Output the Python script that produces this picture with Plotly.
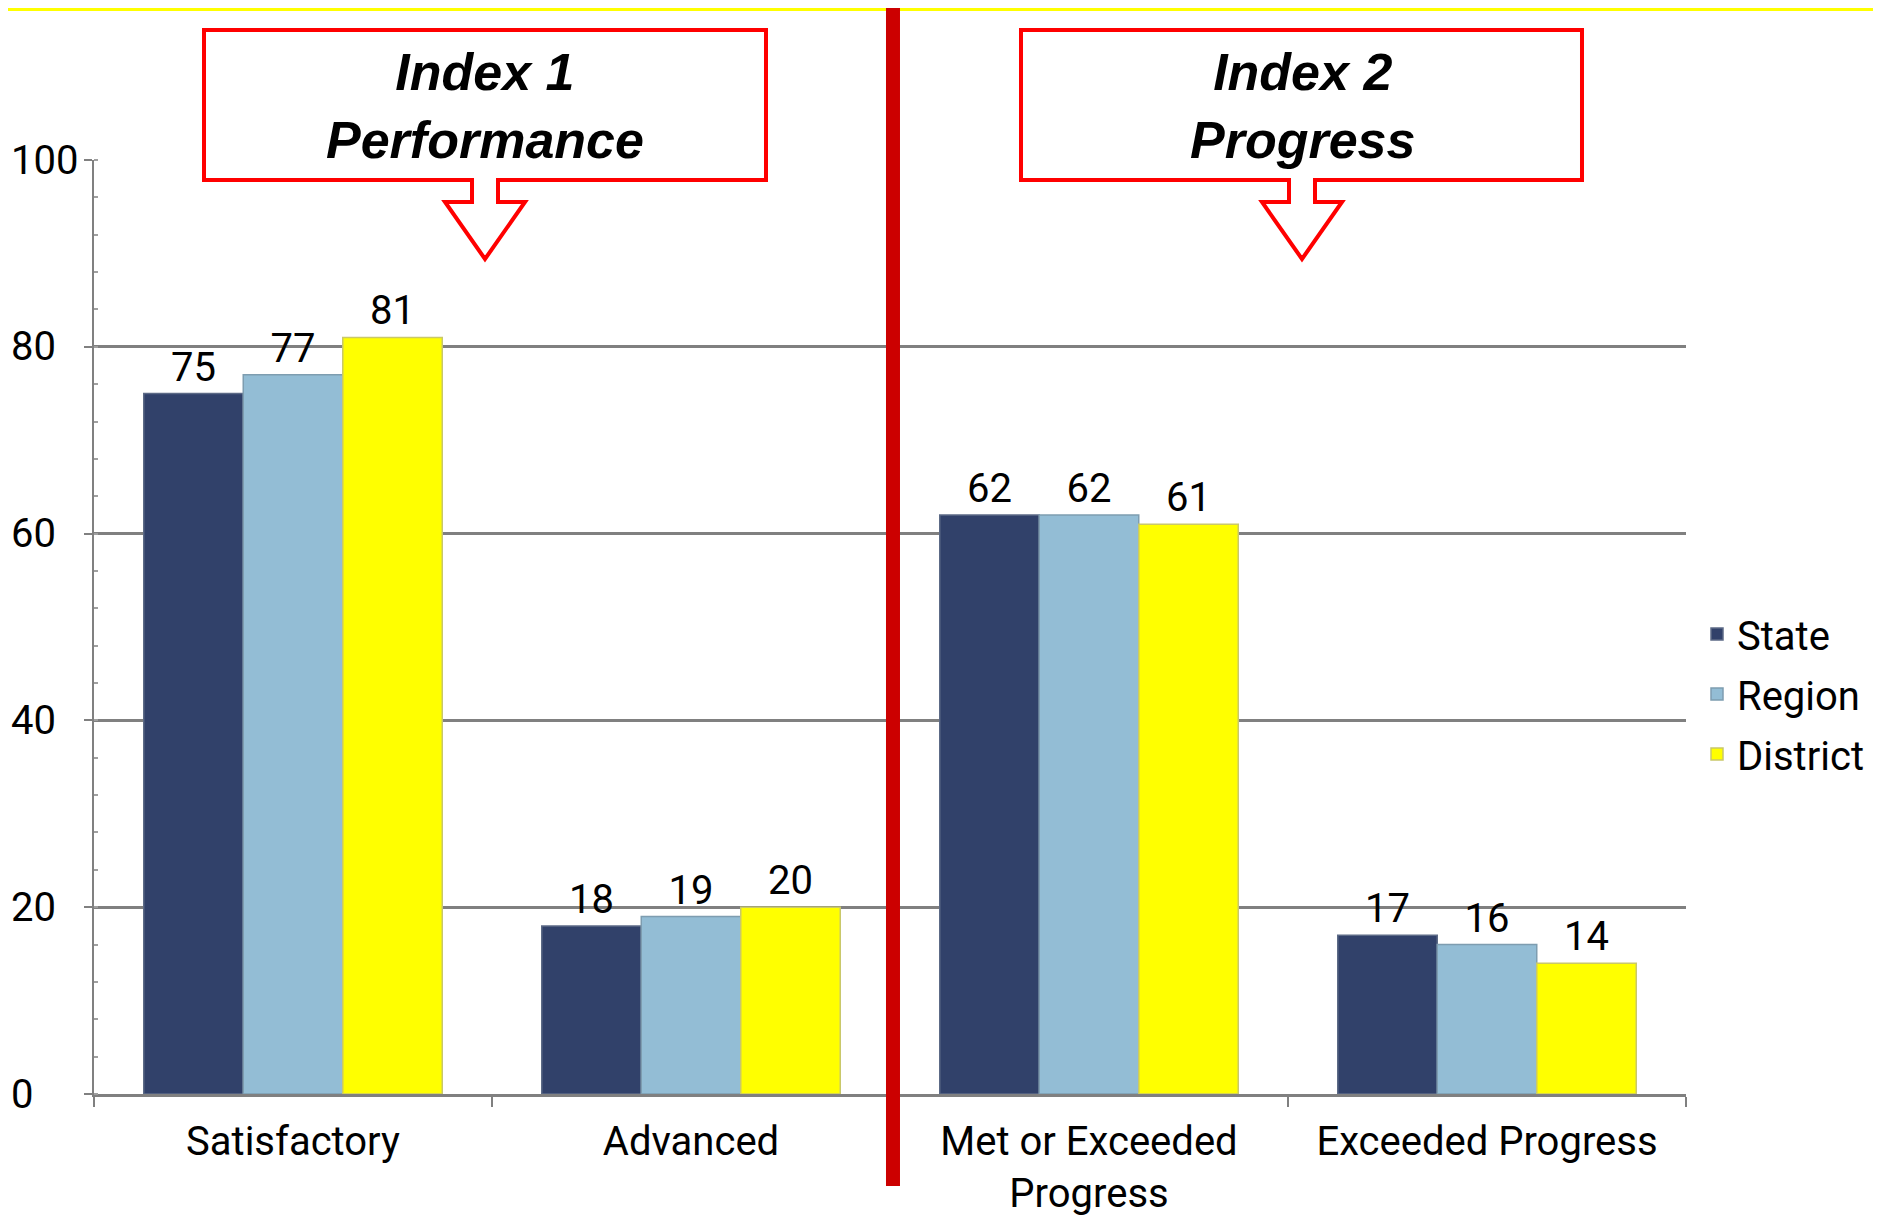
import plotly.graph_objects as go

# ---------------- data ----------------
categories = ["Satisfactory", "Advanced", "Met or Exceeded<br>Progress", "Exceeded Progress"]
state = [75, 18, 62, 17]
region = [77, 19, 62, 16]
district = [81, 20, 61, 14]
series_names = ["State", "Region", "District"]
y_ticks = [0, 20, 40, 60, 80, 100]
callout_titles = ["Index 1<br>Performance", "Index 2<br>Progress"]

# ---------------- styles ----------------
W, H = 1881, 1220
OFF = 8  # page body margin
FW, FH = W - OFF, H - OFF
L, R, T, B = 94, 1686, 160, 1094   # plot area in page pixels
PW, PH = R - L, B - T


def px(x):
    return (x - L) / PW


def py(y):
    return (B - y) / PH


colors = ["#31416A", "#93BDD5", "#FFFF00"]
outline = ["#5C6A86", "#7E9DB0", "#C9C86A"]
FONT = "Roboto, Open Sans, sans-serif"

fig = go.Figure()
for name, vals, c, oc in zip(series_names, [state, region, district], colors, outline):
    fig.add_trace(go.Bar(
        name=name, x=categories, y=vals,
        marker=dict(color=c, line=dict(color=oc, width=1.5)),
        text=[str(v) for v in vals], textposition="outside",
        textfont=dict(family=FONT, size=40, color="#000000"),
        cliponaxis=False, legendgroup=name,
    ))

shapes = []
# yellow top strip
shapes.append(dict(type="rect", xref="paper", yref="paper",
                   x0=px(OFF), x1=px(W), y0=py(OFF + 3), y1=py(OFF),
                   fillcolor="#FFFF00", line=dict(width=0), layer="above"))
# red divider between the two indices
shapes.append(dict(type="line", xref="x", yref="paper",
                   x0=1.5075, x1=1.5075, y0=py(1186), y1=py(OFF),
                   line=dict(color="#CC0000", width=14), layer="above"))

# callout boxes with arrows
boxes = [(204, 766, 485), (1021, 1582, 1302)]
top, bot, stem_bot, tip = 30, 180, 202, 259
for (x0, x1, c) in boxes:
    pts = [(x0, top), (x1, top), (x1, bot), (c + 13, bot), (c + 13, stem_bot),
           (c + 40, stem_bot), (c, tip), (c - 40, stem_bot), (c - 13, stem_bot),
           (c - 13, bot), (x0, bot)]
    path = "M " + " L ".join(f"{px(x):.5f},{py(y):.5f}" for x, y in pts) + " Z"
    shapes.append(dict(type="path", xref="paper", yref="paper", path=path,
                       fillcolor="#FFFFFF", line=dict(color="#FF0000", width=4),
                       layer="above"))

annotations = []
for (x0, x1, c), title in zip(boxes, callout_titles):
    lines = title.split("<br>")
    txt = "<br>".join(f"<b><i>{s}</i></b>" for s in lines)
    annotations.append(dict(xref="paper", yref="paper", x=px(c), y=py(106),
                            xanchor="center", yanchor="middle", text=txt,
                            showarrow=False,
                            font=dict(family="Liberation Sans, Arial, sans-serif",
                                      size=52, color="#000000")))

# y tick labels (left aligned as in the original)
for v in y_ticks:
    annotations.append(dict(xref="paper", yref="y", x=px(9), y=v,
                            xanchor="left", yanchor="middle", text=str(v),
                            showarrow=False,
                            font=dict(family=FONT, size=40, color="#000000")))

fig.update_layout(
    width=FW, height=FH, autosize=False,
    margin=dict(l=L - OFF, r=W - R, t=T - OFF, b=H - B, pad=0, autoexpand=False),
    paper_bgcolor="#FFFFFF", plot_bgcolor="#FFFFFF",
    barmode="group", bargap=0.25, bargroupgap=0,
    showlegend=True,
    legend=dict(x=px(1697), xanchor="left", y=py(694), yanchor="middle",
                font=dict(family=FONT, size=40, color="#000000"),
                tracegroupgap=5, traceorder="grouped",
                bgcolor="rgba(0,0,0,0)"),
    shapes=shapes, annotations=annotations,
    font=dict(family=FONT, color="#000000"),
)
fig.update_xaxes(type="category", showline=True, linecolor="#808080", linewidth=3,
                 ticks="outside", tickson="boundaries", ticklen=10,
                 tickcolor="#808080", tickwidth=2, ticklabelstandoff=10,
                 tickfont=dict(family=FONT, size=40, color="#000000"),
                 showgrid=False, zeroline=False, automargin=False)
fig.update_yaxes(range=[0, 100], tickvals=y_ticks, showticklabels=False,
                 showgrid=True, gridcolor="#808080", gridwidth=2.5,
                 showline=True, linecolor="#808080", linewidth=2,
                 ticks="outside", ticklen=8, tickcolor="#808080", tickwidth=2,
                 minor=dict(dtick=4, ticks="inside", ticklen=4,
                            tickcolor="#A0A0A0", showgrid=False),
                 zeroline=False, automargin=False)

fig.write_html("out.html")
